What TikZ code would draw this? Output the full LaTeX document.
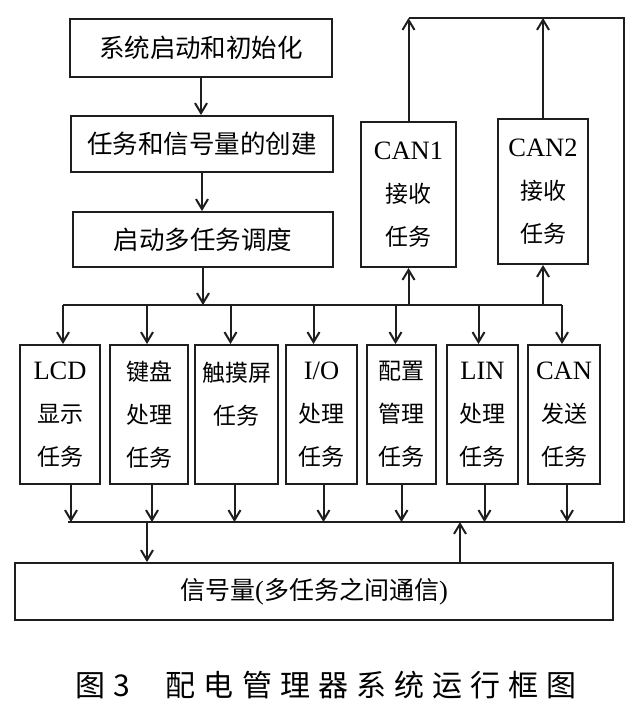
\documentclass[tikz,border=0pt]{standalone}
\usepackage{fontspec}
\setmainfont{Liberation Serif}
\newfontfamily\cjk{Noto Sans CJK SC}
\newfontfamily\capfont[LetterSpace=27]{Noto Sans CJK SC}
\usepackage{xcolor}
\usepackage{tikz}
\usetikzlibrary{calc,arrows.meta}
\definecolor{ink}{HTML}{1E1E1E}
\definecolor{paper}{HTML}{FFFFFF}
\newcommand{\en}[1]{{\rmfamily\fontsize{26.5}{43}\selectfont #1}}
\tikzset{
  blk/.style={draw=ink,line width=2pt,inner sep=0pt,align=center,
    font=\fontsize{25.5}{30}\selectfont\cjk},
  task/.style={blk,minimum height=139pt,font=\fontsize{23}{43}\selectfont\cjk},
  flow/.style={draw=ink,line width=2pt,-{Straight Barb[length=10pt,width=12pt]}},
  wire/.style={draw=ink,line width=2pt},
}

\begin{document}
\begin{tikzpicture}[x=1pt,y=-1pt]
  \fill[paper] (0,0) rectangle (641,702);
  \useasboundingbox (0,0) rectangle (641,702);
  % start-up chain
  \node[blk,minimum width=262pt,minimum height=58pt] (init) at (201,48) {系统启动和初始化};
  \node[blk,minimum width=262pt,minimum height=56pt] (create) at (202,144) {任务和信号量的创建};
  \node[blk,minimum width=260pt,minimum height=55pt] (sched) at (203,239.5) {启动多任务调度};
  \node[task,minimum width=95pt,minimum height=145pt] (can1) at (408.5,194.5) {\en{CAN1}\\接收\\任务};
  \node[task,minimum width=90pt,minimum height=145pt] (can2) at (543,191.5) {\en{CAN2}\\接收\\任务};
  % tasks
  \node[task,minimum width=80pt] (lcd) at (60,414.5) {\en{LCD}\\显示\\任务};
  \node[task,minimum width=78pt] (key) at (149,414.5) {键盘\\处理\\任务};
  \node[task,minimum width=83pt] (touch) at (236.5,414.5) {触摸屏\\任务\\\mbox{}};
  \node[task,minimum width=71pt] (io) at (321.5,414.5) {\en{I/O}\\处理\\任务};
  \node[task,minimum width=69pt] (cfg) at (401.5,414.5) {配置\\管理\\任务};
  \node[task,minimum width=71pt] (lin) at (482.5,414.5) {\en{LIN}\\处理\\任务};
  \node[task,minimum width=72pt] (send) at (564,414.5) {\en{CAN}\\发送\\任务};
  \node[blk,minimum width=598pt,minimum height=57pt,font=\fontsize{25}{30}\selectfont\cjk] (sig) at (314,591.5)
    {信号量\en{(}多任务之间通信\en{)}};
  \node[font=\fontsize{30}{36}\selectfont\capfont] (cap) at (326,685)
    {图3\hspace{36pt}配电管理器系统运行框图};
  % buses
  \coordinate (bus1L) at (63,305);
  \coordinate (bus1R) at (562,305);
  \coordinate (bus2L) at (68,522);
  \coordinate (bus2R) at (624,522);
  \coordinate (topR) at (624,18);
  \coordinate (topL) at (410,18);
  \coordinate (down) at (147,522);
  \coordinate (up) at (460,522);
  \draw[flow] (init.south) -- (init.south |- create.north);
  \draw[flow] (create.south) -- (create.south |- sched.north);
  \draw[flow] (sched.south) -- (sched.south |- bus1L);
  \draw[wire] (bus1L) -- (bus1R);
  \draw[flow] (can1.south |- bus1L) -- (can1.south);
  \draw[flow] (can2.south |- bus1L) -- (can2.south);
  \draw[flow] (can1.north) -- (can1.north |- topL);
  \draw[flow] (can2.north) -- (can2.north |- topL);
  \draw[wire] (can1.north |- topL) -- (topR) -- (bus2R) -- (bus2L);
  \foreach \t/\i/\o in {lcd/3/11,key/-2/3,touch/-6/-2,io/-8/2,cfg/-6/0,lin/-4/2,send/-2/3}{
    \draw[flow] ($(\t.north |- bus1L)+(\i,0)$) -- ($(\t.north)+(\i,0)$);
    \draw[flow] ($(\t.south)+(\o,0)$) -- ($(\t.south |- bus2L)+(\o,0)$);
  }
  \draw[flow] (down) -- (down |- sig.north);
  \draw[flow] (up |- sig.north) -- (up);
\end{tikzpicture}
\end{document}
